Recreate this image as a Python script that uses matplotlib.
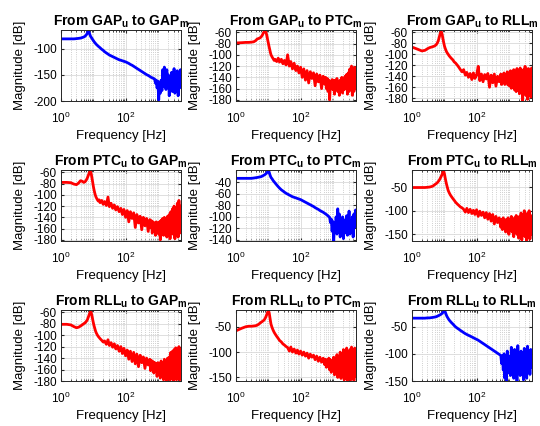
import numpy as np
import matplotlib.pyplot as plt
from matplotlib.ticker import LogLocator, NullFormatter

plt.rcParams['font.family'] = ['Liberation Sans', 'DejaVu Sans']
plt.rcParams['mathtext.fontset'] = 'custom'
plt.rcParams['mathtext.rm'] = 'Liberation Sans'
plt.rcParams['mathtext.it'] = 'Liberation Sans:italic'
plt.rcParams['mathtext.bf'] = 'Liberation Sans:bold'
plt.rcParams['axes.unicode_minus'] = False

# frequency points [Hz]
freq = [1, 1.5, 2, 2.5, 3, 3.5, 4, 4.5, 5, 5.5,
        6, 6.5, 7, 7.5, 8, 8.5, 9, 9.5, 10, 10.5,
        11, 11.5, 12, 13, 14, 15, 16, 18, 20, 22,
        25, 28, 31, 35, 39, 44, 49, 55, 62, 70,
        78, 87, 98, 110, 123, 138, 155, 174, 195, 218,
        245, 275, 308, 345, 387, 434, 487,
        546, 578, 612, 650, 687, 728, 770, 817, 864, 916,
        969, 1028, 1087, 1153, 1219, 1294, 1368, 1451, 1534, 1628,
        1721, 1826, 1931, 2048, 2166, 2298, 2430, 2578, 2726, 2892,
        3058, 3244, 3431, 3640, 3849, 4084, 4318, 4580, 4844, 5000]

# magnitudes [dB], one list per input/output pair
mag_gap_gap = [-81, -81, -81, -81, -80.5, -80, -79.5, -78.5, -77.5, -76,
               -73.5, -70, -64, -70, -75, -78, -80, -82.5, -84.5, -86.5,
               -88, -89.5, -91, -93, -95, -96.5, -98, -101, -103, -105.5,
               -108, -110, -112, -113.5, -115, -116.5, -118, -119.5, -121, -122,
               -123, -124, -125, -126.5, -128, -130, -131.5, -133.5, -135.5, -137.5,
               -139.5, -141.5, -143.5, -145.5, -147.5, -149.5, -151,
               -153, -154, -155, -155.5, -156.5, -157, -158, -166, -160, -175,
               -162, -198, -168, -185, -160, -180, -140, -172, -135, -165,
               -178, -140, -170, -150, -190, -158, -175, -145, -182, -160,
               -138, -185, -150, -172, -142, -190, -155, -175, -140, -165]
mag_gap_ptc = [-79, -78.5, -78, -78, -77.5, -77, -75, -72, -71, -70,
               -68, -65, -61, -58.5, -58, -61, -67, -74, -80, -86,
               -91, -96, -100, -104, -107, -110, -108, -112, -106, -113,
               -108, -116, -110, -118, -100, -120, -112, -125, -115, -128,
               -120, -132, -122, -140, -125, -145, -128, -150, -130, -142,
               -132, -155, -134, -148, -136, -160, -138,
               -152, -140, -160, -142, -165, -145, -180, -148, -158, -144,
               -162, -146, -170, -145, -158, -142, -165, -148, -172, -145,
               -160, -140, -168, -145, -162, -138, -158, -135, -170, -132,
               -165, -125, -160, -120, -172, -128, -165, -122, -160, -145]
mag_gap_rll = [-87, -91, -94, -93, -90, -88, -87, -86, -85, -83,
               -80, -75, -68, -61, -59, -64, -72, -79, -85, -89,
               -92, -95, -97, -100, -103, -105, -107, -110, -114, -116,
               -120, -124, -128, -132, -128, -138, -133, -142, -135, -146,
               -134, -144, -138, -122, -148, -136, -150, -137, -145, -135,
               -160, -138, -152, -136, -158, -140, -150,
               -136, -155, -138, -150, -134, -155, -138, -150, -132, -156,
               -134, -158, -130, -162, -135, -160, -128, -165, -132, -168,
               -126, -165, -135, -172, -125, -170, -130, -185, -128, -165,
               -122, -175, -130, -182, -126, -170, -135, -178, -125, -145]
mag_ptc_gap = [-78, -78, -78.5, -81, -82, -79, -75, -76, -78, -77,
               -74, -70, -65, -60.5, -58, -62, -70, -78, -86, -92,
               -97, -101, -104, -108, -111, -109, -114, -110, -117, -112,
               -119, -104, -121, -115, -124, -118, -127, -121, -130, -124,
               -135, -126, -140, -128, -148, -130, -142, -132, -158, -135,
               -150, -138, -162, -140, -155, -142, -165,
               -144, -158, -146, -168, -148, -160, -150, -172, -148, -165,
               -150, -170, -148, -180, -145, -165, -142, -172, -140, -168,
               -145, -175, -138, -165, -135, -178, -130, -168, -125, -170,
               -120, -178, -125, -165, -115, -175, -110, -168, -120, -135]
mag_ptc_ptc = [-33, -33, -33, -33, -33, -32.5, -32, -31.5, -31, -30.5,
               -30, -29, -28, -27, -26, -24.5, -23, -21, -19, -22,
               -26, -29, -31.5, -34, -37, -39, -41, -44.5, -47.5, -50,
               -53, -55, -57, -59, -60.5, -62, -63.5, -65, -66, -67,
               -68, -69, -70, -71.5, -73, -74.5, -76, -77.5, -79, -80.5,
               -82, -84, -85.5, -87, -89, -90.5, -92,
               -94, -95, -96, -97, -98.5, -99.5, -101, -110, -104, -125,
               -108, -142, -112, -120, -100, -130, -86, -118, -95, -135,
               -110, -125, -100, -138, -115, -105, -128, -98, -132, -112,
               -90, -130, -108, -122, -100, -135, -95, -118, -88, -110]
mag_ptc_rll = [-51, -51, -51, -51, -50.5, -50, -49, -47.5, -45, -43,
               -41, -38, -35, -31, -27, -23, -18, -16, -22, -30,
               -37, -43, -48, -57, -62, -66, -69, -74, -78, -82,
               -86, -89, -92, -94, -97, -103, -95, -104, -97, -106,
               -99, -108, -98, -112, -101, -110, -103, -115, -104, -118,
               -106, -122, -108, -128, -112, -125, -115,
               -135, -118, -140, -115, -135, -120, -145, -118, -140, -115,
               -150, -120, -138, -112, -145, -118, -155, -115, -140, -110,
               -150, -120, -158, -112, -145, -105, -162, -115, -150, -100,
               -155, -110, -164, -105, -145, -100, -160, -110, -150, -125]
mag_rll_gap = [-81, -81, -82, -85, -87, -86, -84, -82, -80, -78.5,
               -76, -73, -68, -63, -59, -60, -66, -73, -79, -84,
               -88, -92, -95, -99, -102, -104, -106, -109, -112, -110,
               -116, -108, -118, -113, -121, -115, -124, -118, -128, -120,
               -132, -123, -136, -126, -142, -128, -146, -130, -150, -133,
               -155, -135, -148, -138, -158, -140, -152,
               -142, -162, -144, -158, -146, -166, -148, -160, -150, -172,
               -148, -165, -150, -175, -145, -168, -148, -178, -142, -170,
               -145, -180, -140, -172, -138, -178, -130, -170, -128, -180,
               -125, -175, -122, -178, -130, -172, -120, -178, -125, -140]
mag_rll_ptc = [-58, -53, -50, -49, -49, -48.5, -48, -47, -45, -43,
               -41, -39.5, -38, -36, -33, -29, -25, -21, -18, -22,
               -30, -38, -45, -52, -57, -61, -64, -69, -73, -77,
               -80, -84, -86, -89, -91, -98, -90, -100, -94, -102,
               -96, -104, -98, -106, -100, -108, -102, -112, -104, -110,
               -106, -115, -108, -118, -110, -120, -112,
               -125, -114, -130, -116, -128, -112, -135, -115, -140, -118,
               -132, -110, -145, -115, -140, -105, -150, -112, -145, -100,
               -152, -108, -148, -95, -155, -105, -150, -92, -156, -100,
               -145, -95, -155, -90, -150, -98, -156, -92, -148, -130]
mag_rll_rll = [-34.5, -34.5, -34.5, -34.5, -34, -34, -33.5, -33, -32.5, -32,
               -31, -30, -29, -28, -27, -25.5, -24, -22, -20, -22.5,
               -26, -29, -31.5, -35, -38, -40, -42, -45, -48, -50.5,
               -53, -55, -57, -59, -61, -63, -64.5, -66, -67.5, -69,
               -70.5, -72, -73.5, -75, -77, -79, -81, -83, -85, -87,
               -89, -91, -93, -95, -97, -99, -101,
               -103, -118, -104, -130, -100, -145, -112, -150, -95, -135,
               -118, -105, -140, -88, -125, -108, -145, -92, -130, -110,
               -150, -85, -125, -105, -140, -95, -132, -115, -148, -90,
               -128, -108, -145, -86, -120, -100, -138, -92, -125, -110]

channels = ['GAP', 'PTC', 'RLL']
mags = [[mag_gap_gap, mag_gap_ptc, mag_gap_rll],
        [mag_ptc_gap, mag_ptc_ptc, mag_ptc_rll],
        [mag_rll_gap, mag_rll_ptc, mag_rll_rll]]
ylims = [[(-200, -64), (-182, -56), (-185, -56)],
         [(-182, -56), (-142, -18.5), (-164, -14)],
         [(-180, -56), (-157, -17), (-150, -19.5)]]
step20 = [-180, -160, -140, -120, -100, -80, -60]
yticks = [[[-200, -150, -100], step20, step20],
          [step20, [-140, -120, -100, -80, -60, -40], [-150, -100, -50]],
          [step20, [-150, -100, -50], [-150, -100, -50]]]

W, H = 540, 426
fig = plt.figure(figsize=(W / 100, H / 100), dpi=100)
lefts = [61, 236, 412]
tops = [30, 170, 310]
aw, ah = 120, 71

for i in range(3):
    for j in range(3):
        ax = fig.add_axes([lefts[j] / W, 1 - (tops[i] + ah) / H, aw / W, ah / H])
        color = '#0000ff' if i == j else '#ff0000'
        ax.semilogx(freq, mags[i][j], color=color, lw=2.0)
        ax.set_xlim(1, 5000)
        ax.set_ylim(*ylims[i][j])
        ax.set_yticks(yticks[i][j])
        ax.set_xticks([1, 100])
        ax.xaxis.set_minor_locator(LogLocator(base=10, subs=np.arange(1, 10), numticks=20))
        ax.xaxis.set_minor_formatter(NullFormatter())
        ax.grid(True, which='major', color='#d9d9d9', lw=0.6, ls='-')
        ax.grid(True, which='minor', axis='x', color='#bfbfbf', lw=0.6, ls=':')
        ax.tick_params(which='both', direction='in', top=True, right=True,
                       labelsize=8.5, color='#262626')
        ax.tick_params(axis='x', pad=7)
        ax.tick_params(axis='y', pad=3)
        ax.tick_params(which='major', length=2.5)
        ax.tick_params(which='minor', length=1.5)
        for s in ax.spines.values():
            s.set_color('#262626')
            s.set_linewidth(0.7)
        ax.set_title(rf'From $\mathbf{{{channels[i]}}}_\mathbf{{u}}$ to '
                     rf'$\mathbf{{{channels[j]}}}_\mathbf{{m}}$',
                     fontsize=10, fontweight='bold', pad=3)
        ax.set_xlabel('Frequency [Hz]', fontsize=9.5, labelpad=3)
        ax.set_ylabel('Magnitude [dB]', fontsize=9.5, labelpad=5)

fig.savefig('out.png', dpi=100)
